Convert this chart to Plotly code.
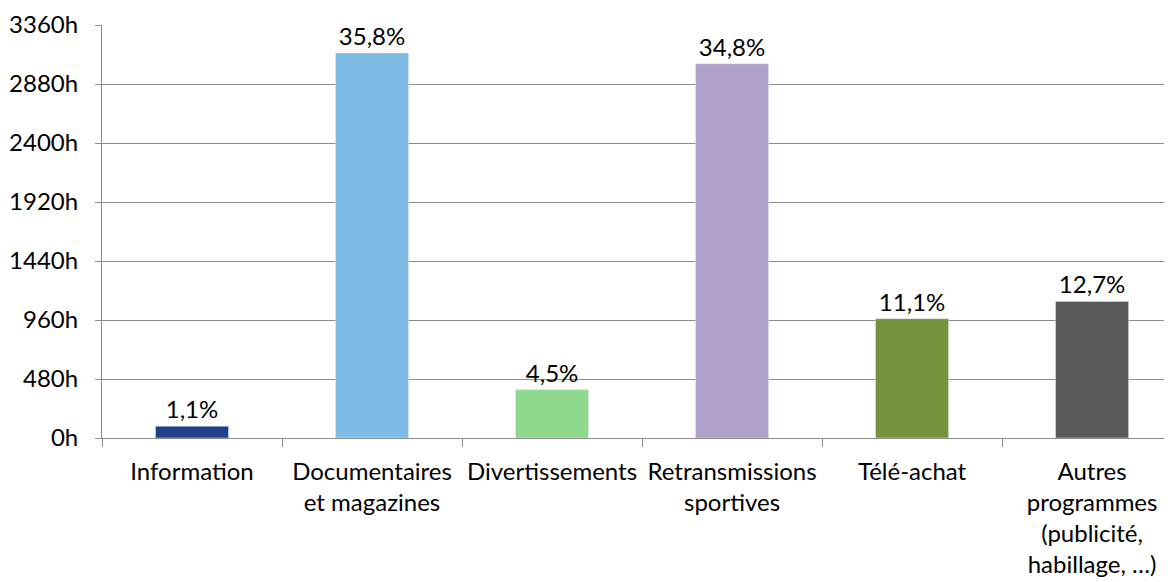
import plotly.graph_objects as go

categories = ["Information", "Documentaires<br>et magazines", "Divertissements",
              "Retransmissions<br>sportives", "Télé-achat",
              "Autres<br>programmes<br>(publicité,<br>habillage, …)"]
hours = [96, 3133, 394, 3045, 971, 1111]
labels = ["1,1%", "35,8%", "4,5%", "34,8%", "11,1%", "12,7%"]
colors = ["#1F3F8C", "#7EBCE6", "#8ED98E", "#B0A2CA", "#77933C", "#595959"]
yticks = [0, 480, 960, 1440, 1920, 2400, 2880, 3360]
yticklabels = [f"{v}h" for v in yticks]

font = "Lato, 'Open Sans', sans-serif"
fs = 24

# The page body has an 8px margin, so the figure is sized/offset accordingly.
fig = go.Figure(go.Bar(
    x=categories, y=hours, marker_color=colors,
    text=labels, textposition="outside", cliponaxis=False,
    textfont=dict(size=fs, color="#000000", family=font),
))
fig.update_layout(
    width=1164, height=574,
    margin=dict(l=94, r=0, t=17, b=144),
    paper_bgcolor="white", plot_bgcolor="white",
    bargap=0.594, showlegend=False,
    font=dict(family=font, size=fs, color="#000000"),
)
fig.update_yaxes(
    range=[0, 3360], tickvals=yticks, ticktext=yticklabels,
    showgrid=True, gridcolor="#8C8C8C", gridwidth=1,
    showline=True, linecolor="#8C8C8C", linewidth=1,
    ticks="outside", ticklen=6, tickcolor="#8C8C8C",
    zeroline=False, tickfont=dict(size=fs), automargin=False,
    ticklabelstandoff=12,
)
fig.update_xaxes(
    range=[-0.5, 5.444],
    showline=True, linecolor="#8C8C8C", linewidth=1,
    ticks="outside", ticklen=8, tickcolor="#8C8C8C", tickson="boundaries",
    tickangle=0, tickfont=dict(size=fs), automargin=False,
    ticklabelstandoff=12,
)
fig.write_html("out.html")
